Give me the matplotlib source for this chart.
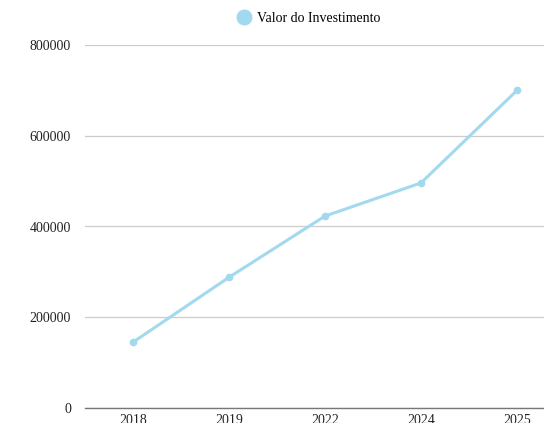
import matplotlib.pyplot as plt
from matplotlib.lines import Line2D

years = ["2018", "2019", "2022", "2024", "2025"]
valores = [145000, 288000, 423000, 496000, 700000]

plt.rcParams["font.family"] = ["Liberation Serif", "DejaVu Serif"]

W, H = 544, 423
fig = plt.figure(figsize=(W / 100, H / 100), dpi=100)
ax = fig.add_axes([85 / W, 15 / H, 480 / W, 363 / H])

cor = "#a3d9ef"
x = list(range(len(years)))
ax.plot(x, valores, color=cor, linewidth=2.2, marker="o", markersize=4.5, zorder=3)

ax.set_xlim(-0.5, len(years) - 0.5)
ax.set_ylim(0, 800000)
ax.set_yticks([0, 200000, 400000, 600000, 800000])
ax.set_yticklabels(["0", "200000", "400000", "600000", "800000"])
ax.set_xticks(x)
ax.set_xticklabels(years)
ax.tick_params(axis="both", length=0, labelsize=10, colors="#222222")
ax.tick_params(axis="y", pad=10)
ax.tick_params(axis="x", pad=4.5)

ax.grid(axis="y", color="#cccccc", linewidth=0.9)
ax.set_axisbelow(True)
for s in ["top", "right", "left"]:
    ax.spines[s].set_visible(False)
ax.spines["bottom"].set_color("#777777")
ax.spines["bottom"].set_linewidth(1.0)

handle = Line2D([], [], color=cor, marker="o", linestyle="none", markersize=10.5)
fig.legend([handle], ["Valor do Investimento"], loc="center",
           bbox_to_anchor=(308 / W, 1 - 18.5 / H), frameon=False,
           fontsize=10, handletextpad=0.3, handlelength=1.2)

fig.savefig("out.png", dpi=100)
